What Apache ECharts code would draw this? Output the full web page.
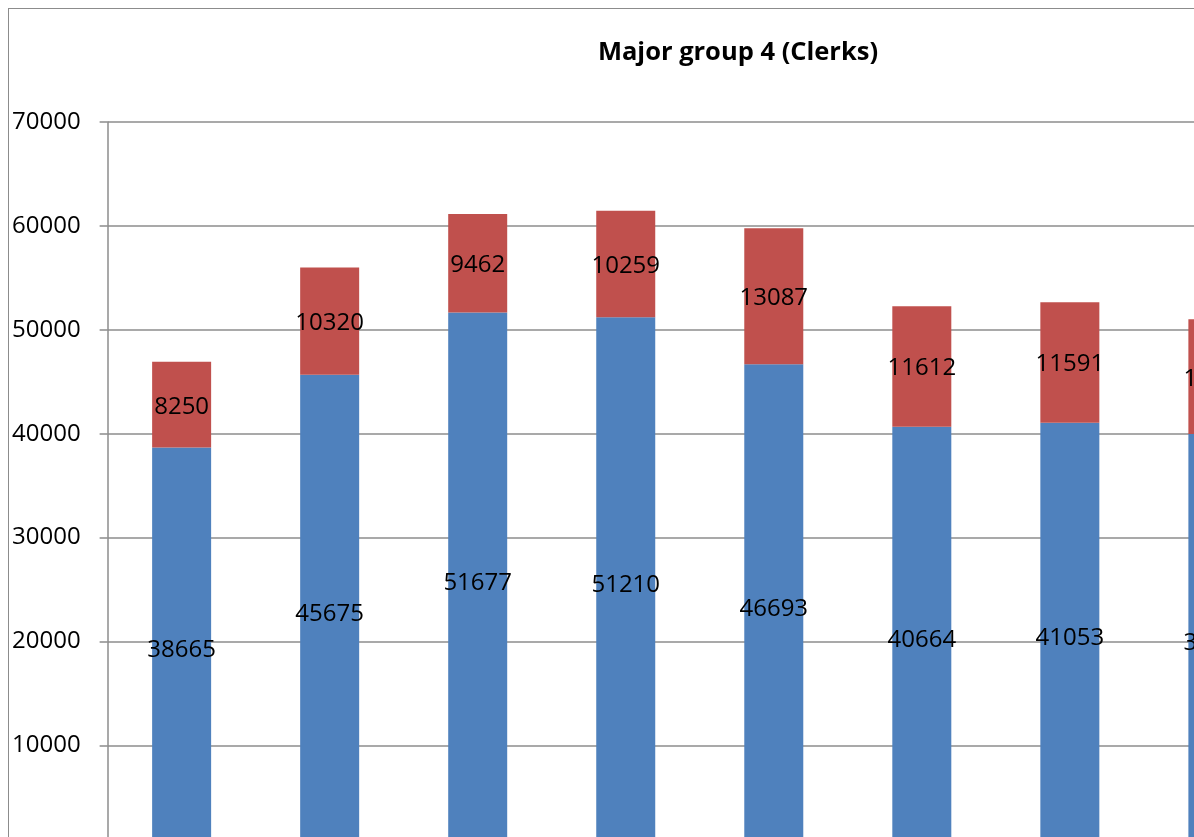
<!DOCTYPE html>
<html>
<head>
<meta charset="utf-8">
<title>Major group 4 (Clerks)</title>
<script src="https://cdn.jsdelivr.net/npm/echarts@6/dist/echarts.min.js"></script>
<style>
  html, body { margin: 0; padding: 0; background: #fff; overflow: hidden; width: 1194px; height: 837px; }
  #frame { position: absolute; left: 8px; top: 8px; border: 1px solid #8c8c8c; }
  #chart { width: 1458px; height: 900px; }
</style>
</head>
<body>
<div id="frame"><div id="chart"></div></div>
<script>
// Employment in major group 4 (Clerks), split into two stacked components
const categories = ['2001', '2002', '2003', '2004', '2005', '2006', '2007', '2008'];
const lowerValues = [38665, 45675, 51677, 51210, 46693, 40664, 41053, 39970];
const upperValues = [8250, 10320, 9462, 10259, 13087, 11612, 11591, 11040];
const yTicks = { min: 0, max: 70000, interval: 10000 };

const chart = echarts.init(document.getElementById('chart'), null, { renderer: 'canvas' });

const labelStyle = {
  show: true,
  position: 'inside',
  offset: [0, 2],
  color: '#000',
  fontFamily: 'Open Sans',
  fontSize: 24
};

chart.setOption({
  animation: false,
  backgroundColor: '#fff',
  title: {
    text: 'Major group 4 (Clerks)',
    left: 'center',
    top: 26,
    textStyle: { fontFamily: 'Open Sans', fontWeight: 'bold', fontSize: 25.5, color: '#000' }
  },
  grid: { left: 97.5, top: 113, width: 1185.4, height: 727.3 },
  xAxis: {
    type: 'category',
    data: categories,
    axisLine: { show: true, lineStyle: { color: '#8c8c8c', width: 1.5 } },
    axisTick: { show: false },
    axisLabel: { show: true, fontFamily: 'Open Sans', fontSize: 24, color: '#000' }
  },
  yAxis: {
    type: 'value',
    min: yTicks.min,
    max: yTicks.max,
    interval: yTicks.interval,
    axisLine: { show: true, lineStyle: { color: '#8c8c8c', width: 1.5 } },
    axisTick: { show: true, length: 8, lineStyle: { color: '#8c8c8c', width: 1.5 } },
    axisLabel: {
      fontFamily: 'Open Sans', fontSize: 24, color: '#000', margin: 27,
      formatter: (v) => String(v)
    },
    splitLine: { show: true, lineStyle: { color: '#8c8c8c', width: 1.5 } }
  },
  series: [
    {
      name: 'lower',
      type: 'bar',
      stack: 'total',
      data: lowerValues,
      barWidth: 59,
      itemStyle: { color: '#4f81bd' },
      label: labelStyle
    },
    {
      name: 'upper',
      type: 'bar',
      stack: 'total',
      data: upperValues,
      barWidth: 59,
      itemStyle: { color: '#c0504d' },
      label: labelStyle
    }
  ]
});
</script>
</body>
</html>
